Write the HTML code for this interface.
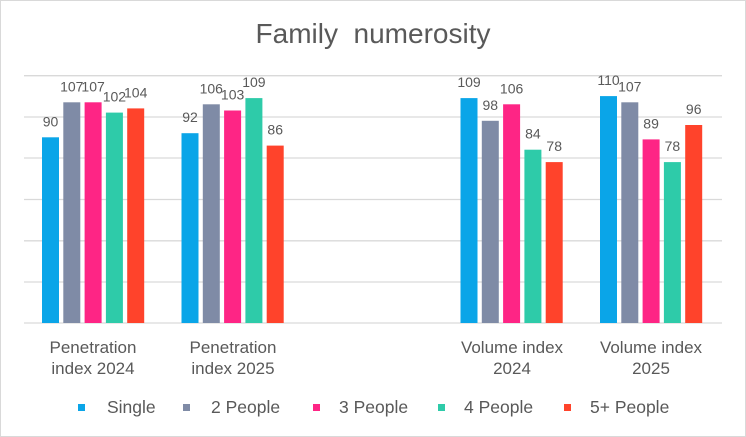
<!DOCTYPE html>
<html><head><style>
body{margin:0;background:#fff}
svg{display:block;font-family:"Liberation Sans",Arial,sans-serif}
</style></head><body>
<svg width="746" height="437" viewBox="0 0 746 437">
<rect x="0.5" y="0.5" width="745" height="436" fill="#fff" stroke="#d9d9d9" stroke-width="1"/>
<text x="373" y="43" text-anchor="middle" font-size="28" fill="#595959" xml:space="preserve">Family  numerosity</text>
<g stroke="#d9d9d9" stroke-width="1.3">
<line x1="24" x2="722" y1="75.7" y2="75.7"/>
<line x1="24" x2="722" y1="117" y2="117"/>
<line x1="24" x2="722" y1="158" y2="158"/>
<line x1="24" x2="722" y1="199.5" y2="199.5"/>
<line x1="24" x2="722" y1="240.8" y2="240.8"/>
<line x1="24" x2="722" y1="282" y2="282"/>
<line x1="24" x2="722" y1="323" y2="323"/>
</g>
<g id="bars" font-size="14" fill="#595959" text-anchor="middle"></g>
<g font-size="17" fill="#595959" text-anchor="middle">
<text x="93" y="353">Penetration</text><text x="93" y="374">index 2024</text>
<text x="233" y="353">Penetration</text><text x="233" y="374">index 2025</text>
<text x="512" y="353">Volume index</text><text x="512" y="374">2024</text>
<text x="651" y="353">Volume index</text><text x="651" y="374">2025</text>
</g>
<g font-size="17.5" fill="#595959">
<rect x="78" y="404" width="7" height="7" fill="#0aa5e8"/><text x="107" y="413">Single</text>
<rect x="183" y="404" width="7" height="7" fill="#7f8ba6"/><text x="211" y="413">2 People</text>
<rect x="313" y="404" width="7" height="7" fill="#fe2585"/><text x="339" y="413">3 People</text>
<rect x="438" y="404" width="7" height="7" fill="#2ecba9"/><text x="464" y="413">4 People</text>
<rect x="564" y="404" width="7" height="7" fill="#ff432b"/><text x="590" y="413">5+ People</text>
</g>
</svg>
<script>
var cols=["#0aa5e8","#7f8ba6","#fe2585","#2ecba9","#ff432b"];
var data=[[93.5,[90,107,107,102,104]],[233,[92,106,103,109,86]],[512,[109,98,106,84,78]],[651.5,[110,107,89,78,96]]];
var g=document.getElementById("bars"),s="";
var base=323,k=2.063;
data.forEach(function(d){d[1].forEach(function(v,i){
var x=d[0]-51.5+i*21.3,h=v*k,y=base-h;
s+='<rect x="'+x.toFixed(1)+'" y="'+y.toFixed(1)+'" width="17" height="'+h.toFixed(1)+'" fill="'+cols[i]+'"/>';
s+='<text x="'+(x+8.5).toFixed(1)+'" y="'+(y-11).toFixed(1)+'">'+v+'</text>';
});});
g.innerHTML=s;
</script>
</body></html>
